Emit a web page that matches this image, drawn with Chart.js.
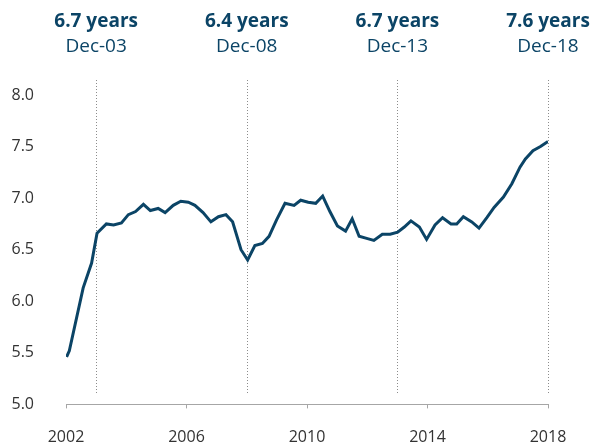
<!DOCTYPE html>
<html>
<head>
<meta charset="utf-8">
<script src="https://cdn.jsdelivr.net/npm/chart.js@4/dist/chart.umd.min.js"></script>
<style>
  html, body { margin: 0; padding: 0; background: #fff; }
  #wrap { width: 591px; height: 446px; position: relative; }
</style>
</head>
<body>
<div id="wrap"><canvas id="myChart"></canvas></div>
<script>
// time as fractional year (tick "2002" sits at Dec-02)
const years = [
  2002.02, 2002.11, 2002.57, 2002.85, 2003.03, 2003.34, 2003.58, 2003.84,
  2004.07, 2004.31, 2004.57, 2004.80, 2005.06, 2005.29, 2005.56, 2005.81,
  2006.06, 2006.28, 2006.55, 2006.81, 2007.06, 2007.31, 2007.53, 2007.81,
  2008.03, 2008.27, 2008.52, 2008.74, 2008.99, 2009.27, 2009.57, 2009.79,
  2010.04, 2010.29, 2010.52, 2010.76, 2011.01, 2011.28, 2011.50, 2011.73,
  2011.98, 2012.22, 2012.50, 2012.76, 2013.01, 2013.23, 2013.45, 2013.73,
  2013.97, 2014.25, 2014.50, 2014.78, 2014.97, 2015.19, 2015.47, 2015.71,
  2015.97, 2016.21, 2016.52, 2016.80, 2017.07, 2017.25, 2017.50, 2017.75,
  2018.00
];
const durations = [
  5.46, 5.52, 6.13, 6.37, 6.66, 6.75, 6.74, 6.76,
  6.84, 6.87, 6.94, 6.88, 6.90, 6.86, 6.93, 6.97,
  6.96, 6.93, 6.86, 6.77, 6.82, 6.84, 6.77, 6.50,
  6.40, 6.54, 6.56, 6.63, 6.79, 6.95, 6.93, 6.98,
  6.96, 6.95, 7.02, 6.87, 6.73, 6.68, 6.80, 6.63,
  6.61, 6.59, 6.65, 6.65, 6.67, 6.72, 6.78, 6.72,
  6.60, 6.74, 6.81, 6.75, 6.75, 6.82, 6.77, 6.71,
  6.81, 6.91, 7.01, 7.14, 7.30, 7.38, 7.46, 7.50,
  7.55
];

const markerYears = [2003, 2008, 2013, 2018];
const markerValues = ['6.7 years', '6.4 years', '6.7 years', '7.6 years'];
const markerDates = ['Dec-03', 'Dec-08', 'Dec-13', 'Dec-18'];

const xTicks = [2002, 2006, 2010, 2014, 2018];
const yTicks = [5.0, 5.5, 6.0, 6.5, 7.0, 7.5, 8.0];

const navy = '#0b4466';

const markerPlugin = {
  id: 'markers',
  beforeDatasetsDraw(chart) {
    const ctx = chart.ctx;
    const xs = chart.scales.x;
    const area = chart.chartArea;
    ctx.save();
    ctx.strokeStyle = '#8c8c8c';
    ctx.lineWidth = 1;
    ctx.setLineDash([1, 2]);
    markerYears.forEach(yr => {
      const px = Math.round(xs.getPixelForValue(yr)) + 0.5;
      ctx.beginPath();
      ctx.moveTo(px, area.top - 15);
      ctx.lineTo(px, area.bottom - 11);
      ctx.stroke();
    });
    ctx.restore();
  },
  afterDraw(chart) {
    const ctx = chart.ctx;
    const xs = chart.scales.x;
    ctx.save();
    ctx.fillStyle = navy;
    ctx.textAlign = 'center';
    ctx.textBaseline = 'middle';
    markerYears.forEach((yr, i) => {
      const px = xs.getPixelForValue(yr);
      ctx.font = 'bold 19px "Open Sans"';
      ctx.fillText(markerValues[i], Math.min(px, 591 - 43), 22);
      ctx.font = '19px "Open Sans"';
      ctx.fillText(markerDates[i], px, 47);
    });
    ctx.restore();
  }
};

new Chart('myChart', {
  type: 'line',
  data: {
    datasets: [{
      data: years.map((x, i) => ({ x: x, y: durations[i] })),
      borderColor: navy,
      borderWidth: 3,
      pointRadius: 0,
      fill: false,
      tension: 0
    }]
  },
  plugins: [markerPlugin],
  options: {
    responsive: true,
    maintainAspectRatio: false,
    animation: false,
    layout: { padding: { left: 8, right: 43, top: 95, bottom: 0 } },
    plugins: {
      legend: { display: false },
      tooltip: { enabled: false }
    },
    scales: {
      x: {
        type: 'linear',
        min: 2002,
        max: 2018,
        afterBuildTicks: axis => { axis.ticks = xTicks.map(v => ({ value: v })); },
        afterFit: axis => { axis.height = 41; },
        border: { display: true, color: '#a6a6a6', width: 1 },
        grid: { display: true, drawOnChartArea: false, drawTicks: true, tickLength: 4, color: '#a6a6a6' },
        ticks: {
          padding: 19,
          maxRotation: 0,
          color: '#333',
          font: { family: 'Open Sans', size: 16 },
          callback: v => String(v)
        }
      },
      y: {
        min: 5,
        max: 8,
        afterBuildTicks: axis => { axis.ticks = yTicks.map(v => ({ value: v })); },
        afterFit: axis => { axis.width = 58; },
        border: { display: false },
        grid: { display: false, drawTicks: false },
        ticks: {
          padding: 32,
          color: '#333',
          font: { family: 'Open Sans', size: 16 },
          callback: v => v.toFixed(1)
        }
      }
    }
  }
});
</script>
</body>
</html>
